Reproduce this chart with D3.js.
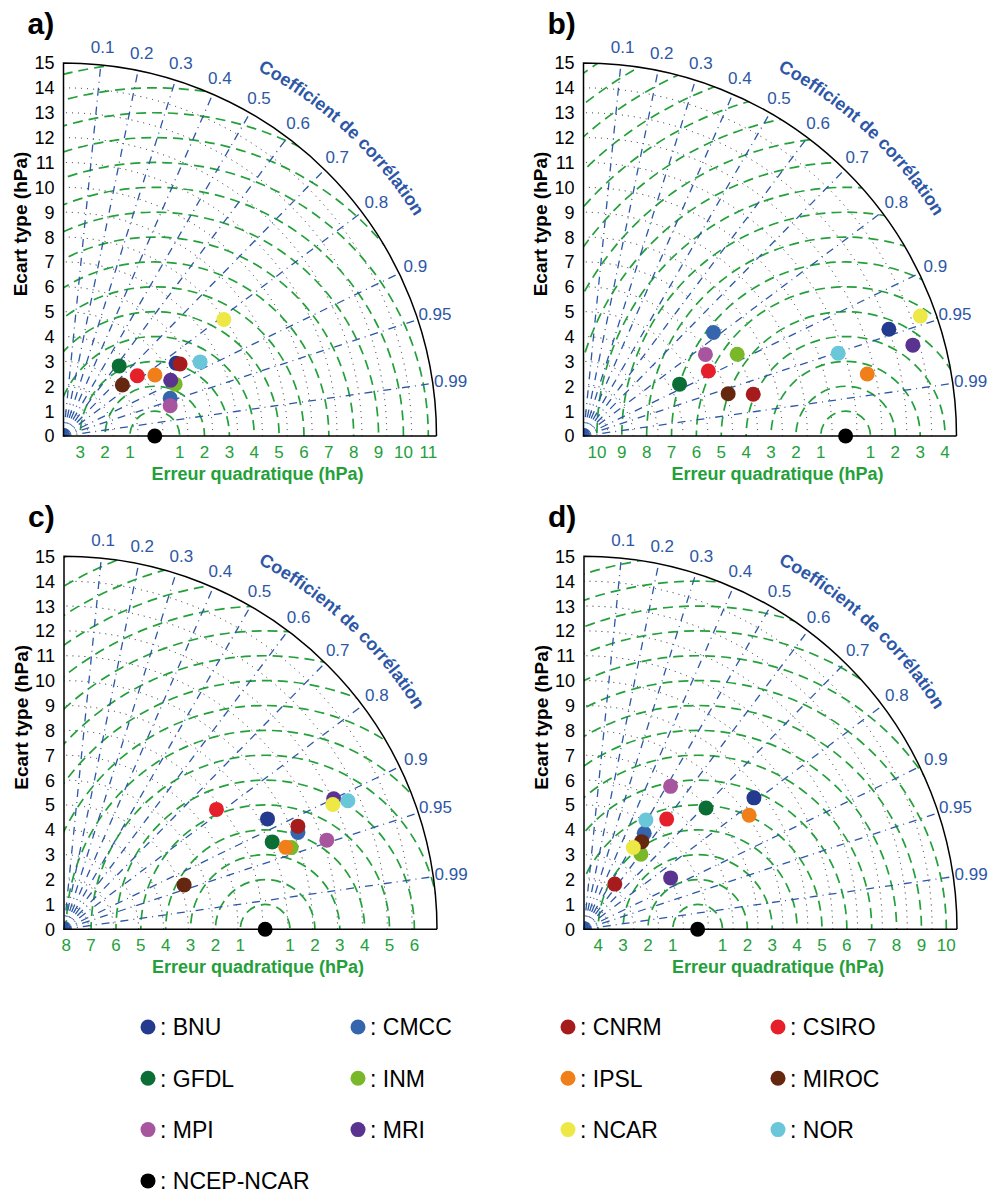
<!DOCTYPE html>
<html>
<head>
<meta charset="utf-8">
<script src="https://cdn.jsdelivr.net/npm/d3@7"></script>
<style>
  body { margin: 0; background: #fff; }
  svg { font-family: "Liberation Sans", Arial, Helvetica, sans-serif; }
</style>
</head>
<body>
<svg id="chart" width="995" height="1194"></svg>
<script>
// Models and their colours (legend order = drawing order)
const models = ['BNU', 'CMCC', 'CNRM', 'CSIRO', 'GFDL', 'INM', 'IPSL', 'MIROC', 'MPI', 'MRI', 'NCAR', 'NOR'];
const modelColors = ['#233a8e', '#3465ad', '#a61c1c', '#e6202a', '#0b6e35', '#79b829',
                     '#f07f1a', '#65270f', '#a855a0', '#5a3390', '#ede846', '#6ac6d9'];
const refName = 'NCEP-NCAR';

const panelLabels = ['a)', 'b)', 'c)', 'd)'];
// standard deviation of the reference (NCEP-NCAR), hPa
const refStd = [3.67, 10.54, 8.09, 4.57];

// standard deviation (hPa) and correlation of each model, per panel
const stdA  = [5.39, 4.55, 5.51, 3.83, 3.60, 4.95, 4.42, 3.13, 4.46, 4.86, 7.97, 6.25];
const corrA = [0.840, 0.943, 0.851, 0.775, 0.622, 0.907, 0.832, 0.756, 0.962, 0.887, 0.809, 0.879];
const stdB  = [13.01, 6.68, 7.03, 5.66, 4.39, 7.00, 11.68, 6.06, 5.90, 13.74, 14.38, 10.77];
const corrB = [0.944, 0.782, 0.971, 0.887, 0.880, 0.883, 0.977, 0.960, 0.831, 0.964, 0.942, 0.951];
const stdC  = [9.31, 10.18, 10.28, 7.80, 9.08, 9.71, 9.51, 5.15, 11.16, 12.05, 11.92, 12.53];
const corrC = [0.879, 0.924, 0.915, 0.786, 0.922, 0.941, 0.938, 0.938, 0.947, 0.900, 0.907, 0.911];
const stdD  = [8.64, 4.56, 2.20, 5.54, 6.92, 3.79, 8.07, 4.22, 6.72, 4.05, 3.84, 5.05];
const corrD = [0.791, 0.531, 0.563, 0.600, 0.709, 0.604, 0.823, 0.550, 0.518, 0.860, 0.516, 0.493];

const stdTicks = d3.range(0, 16);
const corrTicks = [0.1, 0.2, 0.3, 0.4, 0.5, 0.6, 0.7, 0.8, 0.9, 0.95, 0.99];
const stdMax = 15;
const corrTitle = 'Coefficient de corrélation';

const panelStd = [stdA, stdB, stdC, stdD];
const panelCorr = [corrA, corrB, corrC, corrD];

const blue = '#2d57a6', green = '#23a03a';
const R = 373;
const origins = [[63.5, 436], [583.5, 436], [64, 929.3], [584, 929.3]];

const svg = d3.select('#chart');
const r = d3.scaleLinear().domain([0, stdMax]).range([0, R]);

// polar helpers (angle from the x axis, y up)
const px = (s, c) => r(s * c);
const py = (s, c) => -r(s * Math.sin(Math.acos(c)));

panelLabels.forEach((label, p) => {
    const [ox, oy] = origins[p];
    const ref = refStd[p];
    const g = svg.append('g').attr('transform', `translate(${ox},${oy})`);

    const clipId = 'clip' + p;
    g.append('clipPath').attr('id', clipId)
        .append('path')
        .attr('d', `M0,0 L0,${-R} A${R},${R} 0 0 1 ${R},0 Z`);

    // dotted std arcs
    g.append('g')
        .selectAll('path')
        .data(stdTicks.filter(d => d > 0 && d < stdMax))
        .join('path')
        .attr('d', d => `M${r(d)},0 A${r(d)},${r(d)} 0 0 0 0,${-r(d)}`)
        .attr('fill', 'none')
        .attr('stroke', '#222')
        .attr('stroke-width', 1)
        .attr('stroke-dasharray', '1,5');

    // green RMS circles around the reference
    const rmsMax = Math.ceil(Math.hypot(ref, stdMax));
    g.append('g')
        .attr('clip-path', `url(#${clipId})`)
        .selectAll('circle')
        .data(d3.range(1, rmsMax + 1))
        .join('circle')
        .attr('cx', r(ref))
        .attr('cy', 0)
        .attr('r', d => r(d))
        .attr('fill', 'none')
        .attr('stroke', green)
        .attr('stroke-width', 1.7)
        .attr('stroke-dasharray', '10,6');

    // blue correlation rays
    g.append('g')
        .selectAll('line')
        .data(corrTicks)
        .join('line')
        .attr('x1', 0).attr('y1', 0)
        .attr('x2', d => px(stdMax, d))
        .attr('y2', d => py(stdMax, d))
        .attr('stroke', blue)
        .attr('stroke-width', 1.3)
        .attr('stroke-dasharray', '8,5,1,5');

    // frame
    g.append('path')
        .attr('d', `M${R},0 L0,0 L0,${-R} A${R},${R} 0 0 1 ${R},0`)
        .attr('fill', 'none')
        .attr('stroke', '#000')
        .attr('stroke-width', 1.5);

    // std tick labels
    g.append('g')
        .selectAll('text')
        .data(stdTicks)
        .join('text')
        .attr('x', -9)
        .attr('y', d => -r(d))
        .attr('dy', '0.36em')
        .attr('text-anchor', 'end')
        .style('font-size', '18px')
        .text(d => d);

    // RMS tick labels along the x axis
    const rmsTicks = [];
    for (let n = 1; n <= rmsMax; n++) {
        if (ref - n >= 0) rmsTicks.push({ v: n, x: ref - n });
        if (ref + n <= stdMax) rmsTicks.push({ v: n, x: ref + n });
    }
    g.append('g')
        .selectAll('text')
        .data(rmsTicks)
        .join('text')
        .attr('x', d => r(d.x))
        .attr('y', 16)
        .attr('dy', '0.36em')
        .attr('text-anchor', 'middle')
        .attr('fill', green)
        .style('font-size', '17px')
        .text(d => d.v);

    // correlation labels
    g.append('g')
        .selectAll('text')
        .data(corrTicks)
        .join('text')
        .attr('x', d => (R + 18) * d)
        .attr('y', d => -(R + 18) * Math.sin(Math.acos(d)))
        .attr('dy', '0.36em')
        .attr('text-anchor', 'middle')
        .attr('fill', blue)
        .style('font-size', '17px')
        .text(d => d);

    // curved correlation title, one glyph at a time
    const tr = R + 41, midAngle = 47 * Math.PI / 180;
    const probe = g.append('text')
        .style('font-size', '18px').style('font-weight', 'bold')
        .text(corrTitle);
    const widths = corrTitle.split('').map((ch, i) => probe.node().getSubStringLength(i, 1));
    probe.remove();
    const total = d3.sum(widths);
    let run = -total / 2;
    const glyphs = corrTitle.split('').map((ch, i) => {
        const pos = run + widths[i] / 2;
        run += widths[i];
        return { ch, a: midAngle - pos / tr };
    });
    g.append('g')
        .selectAll('text')
        .data(glyphs.filter(d => d.ch !== ' '))
        .join('text')
        .attr('transform', d => `translate(${tr * Math.cos(d.a)},${-tr * Math.sin(d.a)}) rotate(${90 - d.a * 180 / Math.PI})`)
        .attr('text-anchor', 'middle')
        .attr('fill', blue)
        .style('font-size', '18px')
        .style('font-weight', 'bold')
        .text(d => d.ch);

    // axis titles
    g.append('text')
        .attr('transform', `translate(-43,-212) rotate(-90)`)
        .attr('dy', '0.36em')
        .attr('text-anchor', 'middle')
        .style('font-size', '19px')
        .style('font-weight', 'bold')
        .text('Ecart type (hPa)');

    g.append('text')
        .attr('x', 194)
        .attr('y', 44)
        .attr('text-anchor', 'middle')
        .attr('fill', green)
        .style('font-size', '18px')
        .style('font-weight', 'bold')
        .text('Erreur quadratique (hPa)');

    // panel label
    g.append('text')
        .attr('x', -36)
        .attr('y', -R - 29)
        .style('font-size', '30px')
        .style('font-weight', 'bold')
        .text(label);

    // model points
    const pts = models.map((m, i) => ({ m, s: panelStd[p][i], c: panelCorr[p][i], color: modelColors[i] }));
    g.append('g')
        .selectAll('circle')
        .data(pts)
        .join('circle')
        .attr('cx', d => px(d.s, d.c))
        .attr('cy', d => py(d.s, d.c))
        .attr('r', 7.5)
        .attr('fill', d => d.color);

    // reference point
    g.append('circle')
        .attr('cx', r(ref))
        .attr('cy', 0)
        .attr('r', 7.5)
        .attr('fill', '#000');
});

// legend
const legendItems = models.map((m, i) => ({ name: m, color: modelColors[i] }))
    .concat([{ name: refName, color: '#000' }]);
const legend = svg.append('g')
    .selectAll('g')
    .data(legendItems)
    .join('g')
    .attr('transform', (d, i) => `translate(${148 + (i % 4) * 210},${1027 + Math.floor(i / 4) * 51.3})`);
legend.append('circle')
    .attr('r', 7.5)
    .attr('fill', d => d.color);
legend.append('text')
    .attr('x', 12)
    .attr('dy', '0.36em')
    .style('font-size', '23px')
    .text(d => ': ' + d.name);
</script>
</body>
</html>
